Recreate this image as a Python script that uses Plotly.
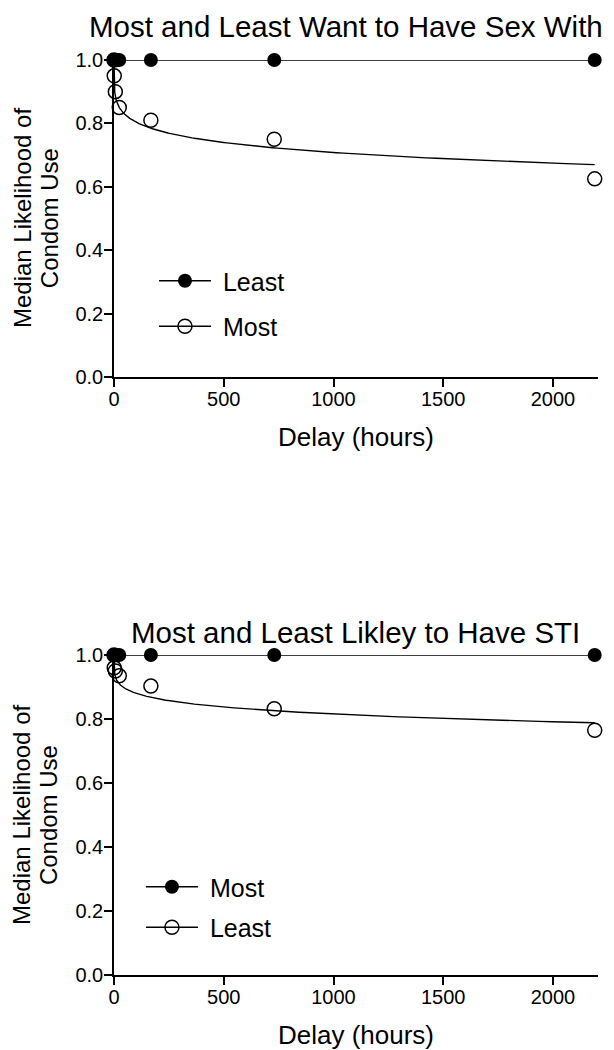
import numpy as np
import plotly.graph_objects as go

# ---------------- data ----------------
delays = [0, 1, 6, 24, 168, 730, 2190]          # hours

# Panel 1: Most and Least Want to Have Sex With
p1_least = [1.0, 1.0, 1.0, 1.0, 1.0, 1.0, 1.0]
p1_most = [1.0, 0.95, 0.90, 0.85, 0.81, 0.75, 0.625]
p1_fit_k, p1_fit_s = 0.0853, 0.228               # hyperboloid fit V = 1/(1+k*D^s)

# Panel 2: Most and Least Likley to Have STI
p2_most = [1.0, 1.0, 1.0, 1.0, 1.0, 1.0, 1.0]
p2_least = [1.0, 0.96, 0.95, 0.935, 0.903, 0.832, 0.765]
p2_fit_k, p2_fit_s = 0.0491, 0.221

titles = ["Most and Least Want to Have Sex With", "Most and Least Likley to Have STI"]
y_title_lines = ["Median Likelihood of", "Condom Use"]
x_ticks = [0, 500, 1000, 1500, 2000]
y_ticks = [0.0, 0.2, 0.4, 0.6, 0.8, 1.0]

# ---------------- figure ----------------
FONT = "Liberation Sans, Arial, sans-serif"
NB = "\u00a0"   # small gap between legend symbol and label
fit_x = np.concatenate([[0.0], np.geomspace(0.01, max(delays), 400)])


def fit_curve(k, s):
    return 1.0 / (1.0 + k * fit_x ** s)


fig = go.Figure()


def add_panel(xa, ya, legend, filled_name, filled_y, open_name, open_y, k, s):
    # open data points (markers only)
    fig.add_trace(go.Scatter(
        x=delays, y=open_y, mode="markers", xaxis=xa, yaxis=ya,
        marker=dict(symbol="circle-open", size=14, color="black", line=dict(width=1.5)),
        showlegend=False, cliponaxis=False, legend=legend,
    ))
    # fitted curve (legend entry shows line + open circle)
    fig.add_trace(go.Scatter(
        x=fit_x, y=fit_curve(k, s), mode="lines+markers", xaxis=xa, yaxis=ya,
        name=NB + open_name, legend=legend, legendgroup=legend + "b", legendrank=2,
        line=dict(color="black", width=1.4),
        marker=dict(symbol="circle-open", size=14, color="black", line=dict(width=1.5)),
        selectedpoints=[], unselected=dict(marker=dict(opacity=0)),
        cliponaxis=False,
    ))
    # filled series
    fig.add_trace(go.Scatter(
        x=delays, y=filled_y, mode="lines+markers", xaxis=xa, yaxis=ya,
        name=NB + filled_name, legend=legend, legendgroup=legend + "a", legendrank=1,
        line=dict(color="black", width=1.4),
        marker=dict(symbol="circle", size=14, color="black"),
        cliponaxis=False,
    ))


add_panel("x", "y", "legend", "Least", p1_least, "Most", p1_most, p1_fit_k, p1_fit_s)
add_panel("x2", "y2", "legend2", "Most", p2_most, "Least", p2_least, p2_fit_k, p2_fit_s)

axis_common = dict(
    showline=True, linecolor="black", linewidth=1.5, ticks="outside", ticklen=8,
    tickwidth=1.5, tickcolor="black", showgrid=False, zeroline=False, automargin=False,
    tickfont=dict(family=FONT, size=20, color="black"),
)

xa_common = dict(axis_common, range=[0, 2205], tickvals=x_ticks, ticklabelstandoff=-5,
                 title=dict(text="Delay (hours)", font=dict(family=FONT, size=26, color="black"), standoff=19))
ya_common = dict(axis_common, range=[0, 1.0], tickvals=y_ticks, tickformat=".1f", ticklabelstandoff=-3)

TOP_DOM = [0.6536, 1.0]
BOT_DOM = [0.0, 0.3497]

fig.update_layout(
    width=606, height=1042,
    margin=dict(l=106, r=16, t=52, b=75, autoexpand=False),
    paper_bgcolor="white", plot_bgcolor="white",
    font=dict(family=FONT, color="black"),
    xaxis=dict(xa_common, domain=[0, 1], anchor="y"),
    yaxis=dict(ya_common, domain=TOP_DOM, anchor="x"),
    xaxis2=dict(xa_common, domain=[0, 1], anchor="y2"),
    yaxis2=dict(ya_common, domain=BOT_DOM, anchor="x2"),
    legend=dict(x=0.0826, y=0.7836, xanchor="left", yanchor="top", bgcolor="rgba(0,0,0,0)",
                font=dict(family=FONT, size=25, color="black"), tracegroupgap=10,
                itemwidth=52, traceorder="grouped"),
    legend2=dict(x=0.0557, y=0.1213, xanchor="left", yanchor="top", bgcolor="rgba(0,0,0,0)",
                 font=dict(family=FONT, size=25, color="black"), tracegroupgap=5,
                 itemwidth=52, traceorder="grouped"),
    showlegend=True,
)

fig.add_annotation(text=titles[0], xref="paper", yref="paper", x=0.479, y=1.0568,
                   xanchor="center", yanchor="top", showarrow=False,
                   font=dict(family=FONT, size=29.5, color="black"))
fig.add_annotation(text=titles[1], xref="paper", yref="paper", x=0.499, y=0.3738,
                   xanchor="center", yanchor="middle", showarrow=False,
                   font=dict(family=FONT, size=29.5, color="black"))
for yc in (0.8273, 0.1749):
    for line_text, xc in zip(y_title_lines, (-0.190, -0.134)):
        fig.add_annotation(text=line_text, xref="paper", yref="paper",
                           x=xc, y=yc, xanchor="center", yanchor="middle", showarrow=False,
                           textangle=-90, font=dict(family=FONT, size=24, color="black"))

fig.write_html("out.html")
